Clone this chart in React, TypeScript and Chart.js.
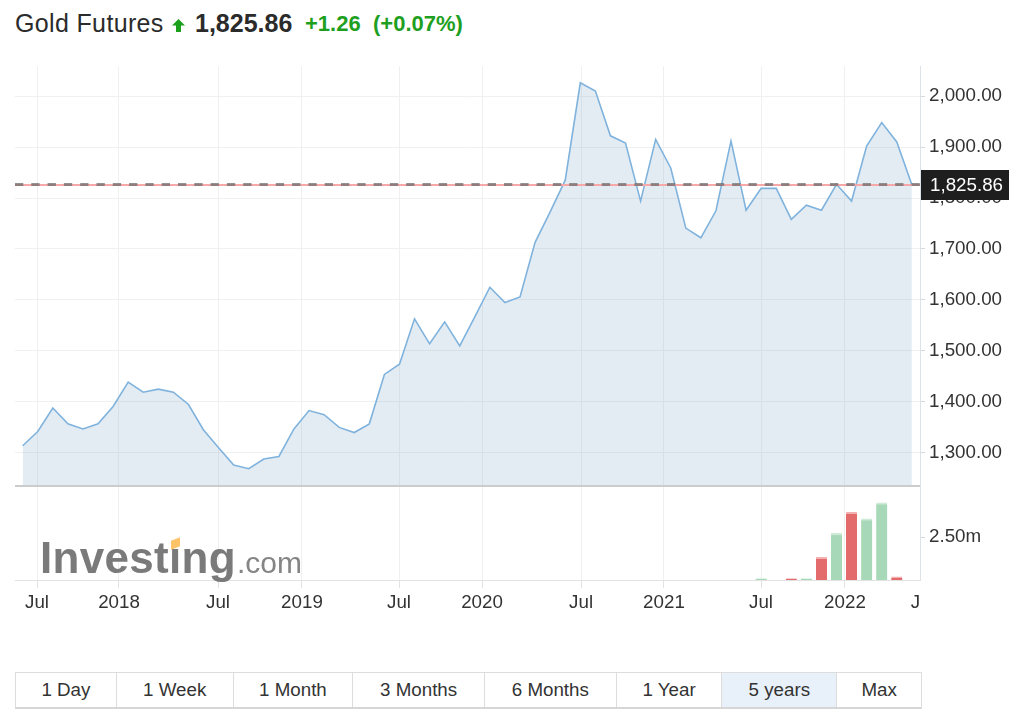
import React, { useEffect, useRef } from "react";
import { Chart, registerables } from "chart.js";

Chart.register(...registerables);

// Monthly closes (Jun 2017 ... May 2022)
const closePrices = [
  1314, 1342, 1388, 1357, 1347, 1357, 1391, 1439, 1419, 1425,
  1419, 1395, 1345, 1310, 1276, 1269, 1288, 1293, 1347, 1383,
  1375, 1350, 1340, 1357, 1454, 1474, 1563, 1514, 1557, 1510,
  1567, 1625, 1595, 1606, 1713, 1773, 1835, 2026, 2010, 1922,
  1908, 1794, 1915, 1859, 1741, 1722, 1775, 1912, 1776, 1819,
  1819, 1758, 1786, 1776, 1827, 1794, 1902, 1948, 1910, 1826,
];

// Monthly volume in millions (0 = no bar)
const volumeMillions = [
  0, 0, 0, 0, 0, 0, 0, 0, 0, 0,
  0, 0, 0, 0, 0, 0, 0, 0, 0, 0,
  0, 0, 0, 0, 0, 0, 0, 0, 0, 0,
  0, 0, 0, 0, 0, 0, 0, 0, 0, 0,
  0, 0, 0, 0, 0, 0, 0, 0, 0, 0.08,
  0, 0.08, 0.08, 1.32, 2.71, 3.94, 3.56, 4.49, 0.19, 0,
];

// Time axis ticks (position in monthly index units) and their labels
const timeTickPositions = [0.95, 6.39, 12.96, 18.53, 24.97, 30.48, 37.05, 42.55, 48.99, 54.56, 59.24];
const timeTickLabels = ["Jul", "2018", "Jul", "2019", "Jul", "2020", "Jul", "2021", "Jul", "2022", "J"];

const priceTicks = [1300, 1400, 1500, 1600, 1700, 1800, 1900, 2000];
const volumeTicks = [2.5];
const volumeTickLabels = ["2.50m"];

const lastPrice = 1825.86;
const change = "+1.26";
const changePct = "(+0.07%)";
const rangeButtons = ["1 Day", "1 Week", "1 Month", "3 Months", "6 Months", "1 Year", "5 years", "Max"];
const activeRange = "5 years";
const buttonWidths = [101, 117, 120, 132, 132, 106, 115, 84];

const FONT = "'Liberation Sans', Arial, Helvetica, sans-serif";

const fmtPrice = (v: number) =>
  v.toLocaleString("en-US", { minimumFractionDigits: 2, maximumFractionDigits: 2 });

const overlayPlugin = {
  id: "overlayPlugin",
  afterDatasetsDraw(chart: any) {
    const { ctx, chartArea } = chart;
    const y = chart.scales.y;
    ctx.save();
    // separator between price pane and volume pane
    ctx.strokeStyle = "#cccccc";
    ctx.lineWidth = 2;
    ctx.beginPath();
    ctx.moveTo(chartArea.left, y.bottom);
    ctx.lineTo(chartArea.right, y.bottom);
    ctx.stroke();
    // last price line
    const py = Math.round(y.getPixelForValue(lastPrice));
    ctx.strokeStyle = "#f7a8a8";
    ctx.lineWidth = 2;
    ctx.beginPath();
    ctx.moveTo(chartArea.left, py);
    ctx.lineTo(chartArea.right, py);
    ctx.stroke();
    ctx.strokeStyle = "rgba(110,110,110,0.75)";
    ctx.lineWidth = 3;
    ctx.setLineDash([8.3, 8]);
    ctx.beginPath();
    ctx.moveTo(chartArea.left, py - 0.5);
    ctx.lineTo(chartArea.right, py - 0.5);
    ctx.stroke();
    ctx.restore();
  },
  afterDraw(chart: any) {
    const { ctx, chartArea } = chart;
    const y = chart.scales.y;
    const py = Math.round(y.getPixelForValue(lastPrice));
    ctx.save();
    ctx.fillStyle = "#1e1e1e";
    ctx.fillRect(chartArea.right + 1, py - 15, 88, 30);
    ctx.fillStyle = "#ffffff";
    ctx.font = `18.75px ${FONT}`;
    ctx.textBaseline = "middle";
    ctx.textAlign = "left";
    ctx.fillText(fmtPrice(lastPrice), chartArea.right + 10, py + 1);
    ctx.restore();
  },
};

export default function App() {
  const canvasRef = useRef<HTMLCanvasElement>(null);

  useEffect(() => {
    const canvas = canvasRef.current;
    if (!canvas) return;
    const priceData = closePrices.map((v, i) => ({ x: i, y: v }));
    const volData = volumeMillions.map((v, i) => ({ x: i, y: v > 0 ? v : null }));
    const isDown = closePrices.map((v, i) => i > 0 && v < closePrices[i - 1]);
    const volColors = isDown.map((d) => (d ? "#e36b6b" : "#a7d8b7"));
    const volBorders = isDown.map((d) => (d ? "#f3b0b0" : "#cdebd7"));
    const lastTick = timeTickPositions.length - 1;

    const chart = new Chart(canvas, {
      type: "line",
      data: {
        datasets: [
          {
            type: "line",
            data: priceData as any,
            yAxisID: "y",
            borderColor: "#7fb3dd",
            borderWidth: 1.6,
            pointRadius: 0,
            tension: 0,
            fill: "start",
            backgroundColor: "rgba(120,160,195,0.2)",
            order: 2,
          },
          {
            type: "bar",
            data: volData as any,
            yAxisID: "vol",
            backgroundColor: volColors,
            borderColor: volBorders,
            borderWidth: { top: 2, left: 0, right: 0, bottom: 0 },
            borderSkipped: "start",
            barThickness: 11,
            order: 1,
          } as any,
        ],
      },
      options: {
        responsive: false,
        animation: false,
        devicePixelRatio: 1,
        layout: { padding: { left: 15, top: 16, right: 0, bottom: 0 } },
        plugins: { legend: { display: false }, tooltip: { enabled: false } },
        font: { family: FONT },
        scales: {
          x: {
            type: "linear",
            position: "bottom",
            min: -0.51,
            max: 59.54,
            offset: false,
            afterBuildTicks: (s: any) => {
              s.ticks = timeTickPositions.map((v) => ({ value: v }));
            },
            afterFit: (s: any) => {
              s.height = 40;
            },
            ticks: {
              autoSkip: false,
              maxRotation: 0,
              minRotation: 0,
              padding: 4,
              color: "#333333",
              font: { family: FONT, size: 18.75 },
              callback: (_v: any, i: number) => timeTickLabels[i],
            },
            grid: {
              offset: false,
              color: (c: any) => (c.index === lastTick ? "rgba(0,0,0,0)" : "#f0f0f0"),
              tickColor: (c: any) => (c.index === lastTick ? "rgba(0,0,0,0)" : "#e2e2e2"),
              tickLength: 8,
            },
            border: { color: "#e2e2e2" },
          },
          y: {
            type: "linear",
            position: "right",
            stack: "panes",
            stackWeight: 4.47,
            min: 1235,
            max: 2059,
            afterBuildTicks: (s: any) => {
              s.ticks = priceTicks.map((v) => ({ value: v }));
            },
            afterFit: (s: any) => {
              s.width = 104;
            },
            ticks: {
              padding: 4,
              color: "#333333",
              font: { family: FONT, size: 18.75 },
              callback: (v: any) => fmtPrice(Number(v)),
            },
            grid: { color: "#f0f0f0", tickLength: 5, tickColor: "#d3d9df" },
            border: { color: "#dde2e7" },
          },
          vol: {
            type: "linear",
            position: "right",
            stack: "panes",
            stackWeight: 1,
            min: 0,
            max: 5.47,
            afterBuildTicks: (s: any) => {
              s.ticks = volumeTicks.map((v) => ({ value: v }));
            },
            afterFit: (s: any) => {
              s.width = 104;
            },
            ticks: {
              padding: 4,
              color: "#333333",
              font: { family: FONT, size: 18.75 },
              callback: (_v: any, i: number) => volumeTickLabels[i],
            },
            grid: { drawOnChartArea: false, tickLength: 5, tickColor: "#d3d9df" },
            border: { color: "#dde2e7" },
          },
        } as any,
      },
      plugins: [overlayPlugin],
    });
    return () => chart.destroy();
  }, []);

  const span = (
    text: string,
    left: number,
    top: number,
    size: number,
    color: string,
    weight: number,
    spacing = 0
  ) => (
    <span
      style={{
        position: "absolute",
        left,
        top,
        fontSize: size,
        lineHeight: `${size}px`,
        color,
        fontWeight: weight,
        letterSpacing: spacing,
        whiteSpace: "nowrap",
      }}
    >
      {text}
    </span>
  );

  return (
    <div
      style={{
        position: "absolute",
        left: 0,
        top: 0,
        width: 1024,
        height: 718,
        background: "#ffffff",
        fontFamily: FONT,
        overflow: "hidden",
      }}
    >
      {span("Gold Futures", 15, 10.8, 25, "#2b2b2b", 400, 0.35)}
      <svg
        style={{ position: "absolute", left: 172, top: 19 }}
        width={13}
        height={13}
        viewBox="0 0 13 13"
      >
        <polygon points="6.5,0 13,6.5 9,6.5 9,13 4,13 4,6.5 0,6.5" fill="#1aa01a" />
      </svg>
      {span(fmtPrice(lastPrice), 195, 10.8, 25, "#2b2b2b", 700)}
      {span(change, 305, 13.1, 22, "#1f9f1f", 700)}
      {span(changePct, 373, 13.1, 22, "#1f9f1f", 700)}

      <canvas
        ref={canvasRef}
        width={1024}
        height={570}
        style={{ position: "absolute", left: 0, top: 50, width: 1024, height: 570 }}
      />

      <span
        style={{
          position: "absolute",
          left: 40,
          top: 535.8,
          fontSize: 44,
          lineHeight: "44px",
          fontWeight: 700,
          color: "#7a7a7a",
          letterSpacing: 0.3,
          whiteSpace: "nowrap",
        }}
      >
        Investing
      </span>
      <span
        style={{
          position: "absolute",
          left: 237,
          top: 547.6,
          fontSize: 30,
          lineHeight: "30px",
          fontWeight: 400,
          color: "#858585",
          whiteSpace: "nowrap",
        }}
      >
        .com
      </span>
      <div
        style={{
          position: "absolute",
          left: 171,
          top: 539,
          width: 9,
          height: 9,
          background: "#fcc367",
          transform: "skewY(-20deg)",
        }}
      />

      <div
        style={{
          position: "absolute",
          left: 15,
          top: 672,
          height: 37,
          width: 907,
          border: "1px solid #dddddd",
          borderBottom: "2px solid #d6d6d6",
          boxSizing: "border-box",
          display: "flex",
        }}
      >
        {rangeButtons.map((b, i) => (
          <div
            key={b}
            style={{
              width: buttonWidths[i],
              height: "100%",
              boxSizing: "border-box",
              borderRight: i < rangeButtons.length - 1 ? "1px solid #dddddd" : "none",
              background: b === activeRange ? "#e8f1f9" : "#ffffff",
              display: "flex",
              alignItems: "center",
              justifyContent: "center",
              fontSize: 18.75,
              color: "#333333",
              whiteSpace: "nowrap",
            }}
          >
            {b}
          </div>
        ))}
      </div>
    </div>
  );
}
